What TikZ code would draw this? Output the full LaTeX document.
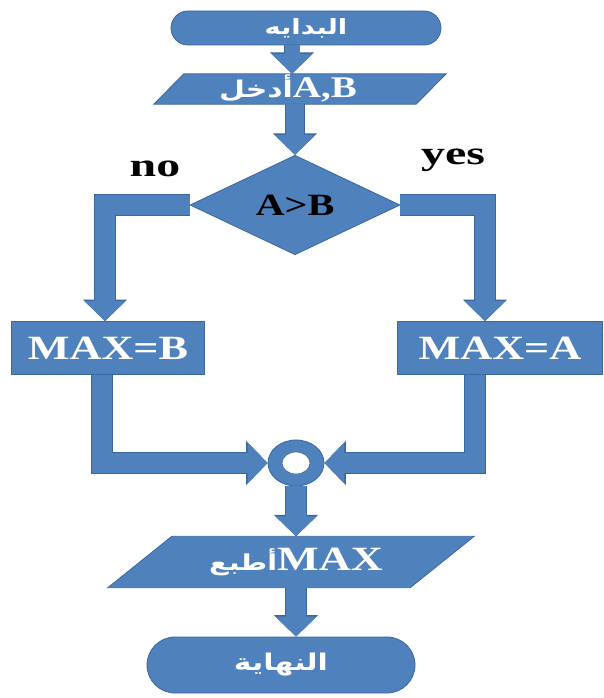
\documentclass[tikz,border=0pt]{standalone}
\usepackage{fontspec}
\usetikzlibrary{shapes.geometric,shapes.misc,arrows.meta,calc}
\TeXXeTstate=1
\newfontfamily\arabicfont[Script=Arabic,FakeStretch=1.3]{DejaVu Sans}
\newfontfamily\latinfont[FakeStretch=1.3]{Liberation Serif}
\newfontfamily\labelfont[FakeStretch=1.45]{Liberation Serif}
\definecolor{boxfill}{HTML}{4F81BD}
\definecolor{boxline}{HTML}{3A679E}
\tikzset{
  shp/.style={fill=boxfill, draw=boxline, line width=0.8pt, text=white, inner sep=0pt},
  term/.style={shp, rounded rectangle},
  procbox/.style={shp, rectangle},
  iotext/.style={inner sep=0pt, text=white},
  lat/.style={font=\latinfont\bfseries\fontsize{34}{38}\selectfont},
  blockarrow/.style={boxfill, line width=#1, line join=miter,
    -{Triangle[width=40pt,length=20pt]},
    preaction={draw=boxline, line width=#1+1.6pt, -{Triangle[width=43pt,length=21.5pt]}}},
  blockarrow/.default=18pt,
  lbl/.style={font=\labelfont\bfseries\fontsize{33}{36}\selectfont, text=black}
}
\begin{document}
\begin{tikzpicture}[x=1pt,y=-1pt]
\useasboundingbox (0,0) rectangle (604,698);
% start
\node[term, minimum width=270pt, minimum height=34pt, font=\arabicfont\bfseries\fontsize{21}{24}\selectfont] (start) at (306,28) {\beginR البدايه\endR};
% input
\node[iotext, minimum width=262pt, minimum height=30pt] (inp) at (300,89) {};
\filldraw[shp] ($(inp.south west)+(-15,0)$) -- ($(inp.south east)+(-15,0)$) -- ($(inp.north east)+(15,0)$) -- ($(inp.north west)+(15,0)$) -- cycle;
\node[iotext] (inptext) at ([xshift=-12pt,yshift=1pt]inp.center) {{\arabicfont\bfseries\fontsize{23}{26}\selectfont\beginR أدخل\endR}{\latinfont\bfseries\fontsize{30}{32}\selectfont A,B}};
% decision
\node[shp, diamond, minimum width=210pt, minimum height=92pt, text=black, font=\latinfont\bfseries\fontsize{31}{34}\selectfont] (dec) at (295,205) {A>B};
\node[lbl] (no) at (155,169) {no};
\node[lbl] (yes) at (453,160) {yes};
% process boxes
\node[procbox, minimum width=193pt, minimum height=53pt, lat] (maxb) at (108,348) {MAX=B};
\node[procbox, minimum width=205pt, minimum height=53pt, lat] (maxa) at (500,348) {MAX=A};
% join
\node[shp, ellipse, minimum width=56pt, minimum height=46pt,
  path picture={\fill[white, draw=boxline, line width=0.6pt] (path picture bounding box.center) ellipse (14pt and 11pt);}] (join) at (296,463) {};
% print
\node[iotext, minimum width=302pt, minimum height=51pt] (prt) at (291,562) {};
\filldraw[shp] ($(prt.south west)+(-32,0)$) -- ($(prt.south east)+(-32,0)$) -- ($(prt.north east)+(32,0)$) -- ($(prt.north west)+(32,0)$) -- cycle;
\node[iotext] (prttext) at ([xshift=5pt]prt.center) {{\arabicfont\bfseries\fontsize{22}{26}\selectfont\beginR أطبع\endR}{\latinfont\bfseries\fontsize{34}{38}\selectfont MAX}};
% end
\node[term, minimum width=268pt, minimum height=56pt, font=\arabicfont\bfseries\fontsize{23}{26}\selectfont] (end) at (281,665) {\beginR النهاية\endR};
% connectors
\draw[blockarrow=15pt] ([xshift=-14pt]start.south) -- ([xshift=-8pt]inp.north);
\draw[blockarrow=18pt] ([xshift=-5pt]inp.south) -- (dec.north);
\draw[blockarrow=20pt] (dec.west) -| ([xshift=-3pt]maxb.north);
\draw[blockarrow=20pt] (dec.east) -| ([xshift=-15pt]maxa.north);
\draw[blockarrow=20pt] ([xshift=-6pt]maxb.south) |- (join.west);
\draw[blockarrow=20pt] ([xshift=-25pt]maxa.south) |- (join.east);
\draw[blockarrow=20pt] (join.south) -- ([xshift=5pt]prt.north);
\draw[blockarrow=20pt] ([xshift=5pt]prt.south) -- ([xshift=15pt]end.north);
\end{tikzpicture}
\end{document}
